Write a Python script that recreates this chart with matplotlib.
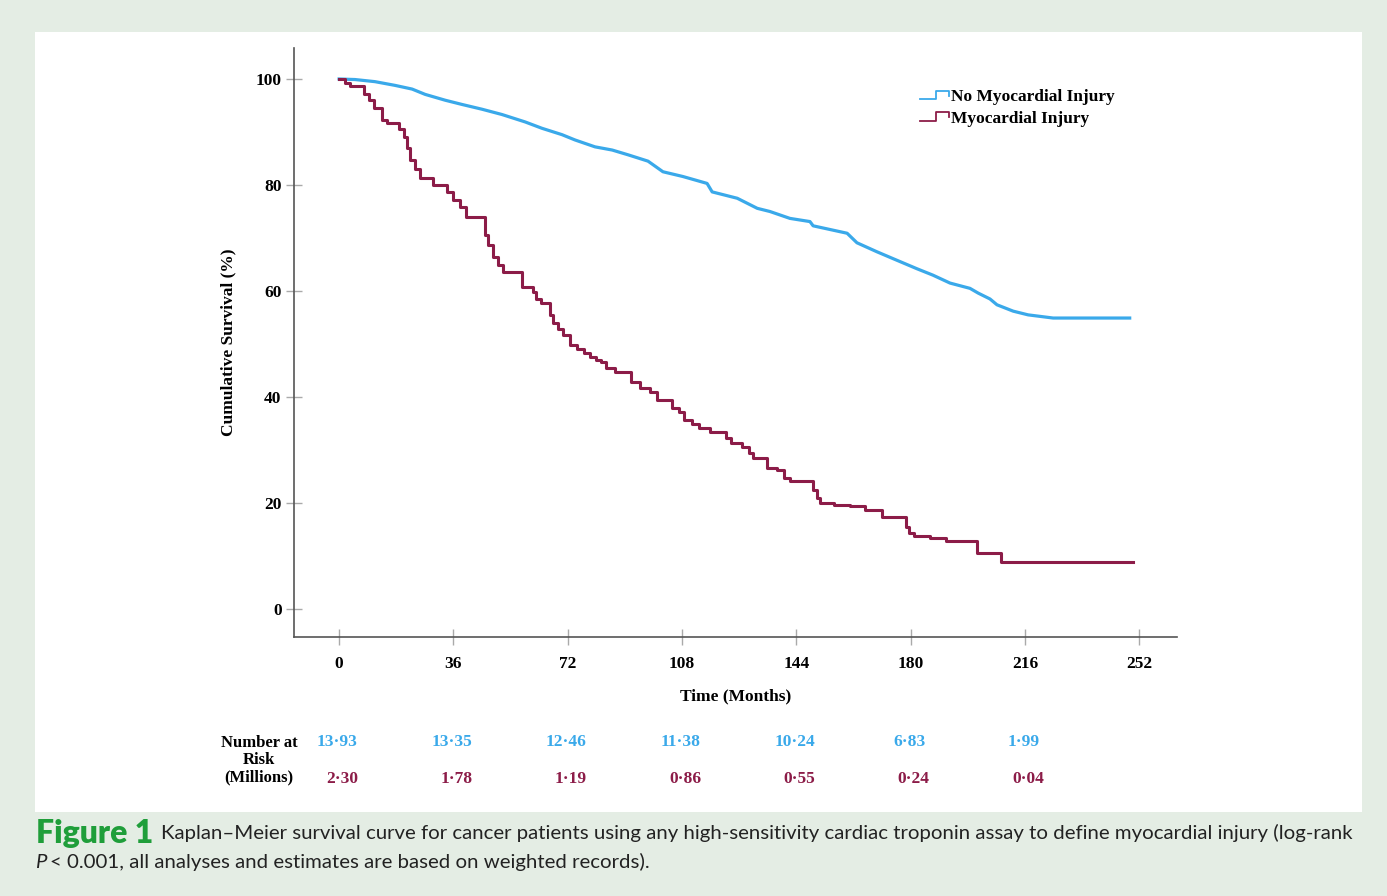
import numpy as np
import matplotlib
matplotlib.use('Agg')
import matplotlib.pyplot as plt
from matplotlib.lines import Line2D
from matplotlib.legend_handler import HandlerBase
from matplotlib.patches import Rectangle
from matplotlib.transforms import blended_transform_factory

# ________DANE_________________________________________________
months_no_injury = [0, 5, 11.3, 17.6, 23, 27.1, 33.4, 38.7, 45, 51.3, 58.6, 63.9, 70.2, 74.3,
                    80.6, 86, 91, 97.3, 102, 108.3, 115.9, 117.5, 125.4, 131.7, 135.7, 142,
                    148.3, 149.3, 160, 163.1, 169.4, 174.5, 182, 187, 192.4, 198.7, 201.3,
                    205, 207.2, 212.3, 217, 224.9, 249]
surv_no_injury = [100, 99.9, 99.5, 98.8, 98.1, 97.1, 96.0, 95.2, 94.3, 93.3, 91.9, 90.7, 89.5, 88.5,
                  87.2, 86.6, 85.7, 84.5, 82.5, 81.6, 80.3, 78.7, 77.5, 75.6, 75.0, 73.7,
                  73.1, 72.3, 70.9, 69.1, 67.4, 66.1, 64.2, 63.0, 61.5, 60.5, 59.6,
                  58.5, 57.4, 56.2, 55.5, 54.9, 54.9]

months_injury = [0, 2, 3.5, 8, 9.5, 11, 13.5, 15, 19, 20.5, 21.5, 22.4, 24, 25.5, 29.6, 34, 36,
                 38, 40, 46, 47, 48.5, 50, 51.5, 57.6, 61, 62, 63.5, 66.5, 67.5, 69, 70.5,
                 72.8, 75, 77, 79, 81, 82.5, 84, 87, 91.8, 94.8, 98, 100, 104.8, 107, 108.7,
                 111, 113.5, 116.7, 122, 123.5, 127, 129, 130.5, 134.8, 138, 140, 142, 149.3,
                 150.5, 151.5, 156, 161, 165.5, 171, 178.5, 179.5, 181, 186, 191, 201, 208.5,
                 250]
surv_injury = [100, 99.3, 98.6, 97.2, 96, 94.5, 92.2, 91.7, 90.5, 89, 87, 84.7, 83, 81.3, 80,
               78.7, 77.2, 75.8, 74, 70.5, 68.7, 66.4, 65, 63.6, 60.8, 59.8, 58.5, 57.7, 55.5,
               54, 52.8, 51.7, 49.8, 49, 48.3, 47.5, 47, 46.6, 45.5, 44.7, 42.8, 41.7, 41,
               39.4, 37.9, 37.2, 35.7, 35, 34.2, 33.4, 32.2, 31.3, 30.6, 29.5, 28.5, 26.6,
               26.2, 24.7, 24.2, 22.5, 21, 20, 19.6, 19.4, 18.7, 17.4, 15.5, 14.3, 13.8,
               13.4, 12.8, 10.6, 8.9, 8.9]

x_ticks = [0, 36, 72, 108, 144, 180, 216, 252]
y_ticks = [0, 20, 40, 60, 80, 100]

risk_months = [0, 36, 72, 108, 144, 180, 216]
risk_no_injury = ['13·93', '13·35', '12·46', '11·38', '10·24', '6·83', '1·99']
risk_injury = ['2·30', '1·78', '1·19', '0·86', '0·55', '0·24', '0·04']

labels = ['No Myocardial Injury', 'Myocardial Injury']

BLUE = '#3aa9ea'
RED = '#8c1c48'
SERIF = ['Liberation Serif', 'DejaVu Serif']


class StepHandler(HandlerBase):
    # ikonka legendy w ksztalcie schodka
    def create_artists(self, legend, orig_handle, xdescent, ydescent, width, height, fontsize, trans):
        xs = np.array([0, 0.55, 0.55, 1.0, 1.0]) * width - xdescent
        ys = np.array([0.15, 0.15, 0.85, 0.85, 0.45]) * height - ydescent
        line = Line2D(xs, ys, color=orig_handle.get_color(), linewidth=1.3)
        line.set_transform(trans)
        return [line]


fig = plt.figure(figsize=(13.87, 8.96), dpi=100)
fig.patch.set_facecolor('#e4ede4')
fig.patches.append(Rectangle((35 / 1387, 1 - 812 / 896), (1362 - 35) / 1387, (812 - 32) / 896,
                             transform=fig.transFigure, facecolor='white', edgecolor='none', zorder=-5))

ax = fig.add_axes([294 / 1387, 1 - 637 / 896, (1177 - 294) / 1387, (637 - 48) / 896])
ax.set_facecolor('none')

l1, = ax.plot(months_no_injury, surv_no_injury, color=BLUE, linewidth=2.3)
l2, = ax.plot(months_injury, surv_injury, drawstyle='steps-post', color=RED, linewidth=2.2)

ax.set_xlim(-14.2, 263.9)
ax.set_ylim(-5.28, 105.85)
ax.set_xticks(x_ticks)
ax.set_yticks(y_ticks)
ax.tick_params(direction='inout', length=12, width=1, color='#aaaaaa')
ax.tick_params(axis='x', pad=8)
ax.tick_params(axis='y', pad=3)
for lab in ax.get_xticklabels() + ax.get_yticklabels():
    lab.set_family(SERIF)
    lab.set_fontweight('bold')
    lab.set_fontsize(12.5)

for s in ['top', 'right']:
    ax.spines[s].set_visible(False)
for s in ['left', 'bottom']:
    ax.spines[s].set_color('#555555')
    ax.spines[s].set_linewidth(1.2)

ax.set_xlabel('Time (Months)', family=SERIF, fontweight='bold', fontsize=12.5)
ax.xaxis.set_label_coords(0.5, -0.088)
ax.set_ylabel('Cumulative Survival (%)', family=SERIF, fontweight='bold', fontsize=12.5)
ax.yaxis.set_label_coords(-0.0657, 0.5)

ax.legend([l1, l2], labels, handler_map={Line2D: StepHandler()},
          loc='upper left', bbox_to_anchor=(920 / 1387, 1 - 89 / 896), bbox_transform=fig.transFigure,
          frameon=False, borderpad=0, borderaxespad=0, handlelength=1.65, handletextpad=0.15,
          labelspacing=0.3, prop={'family': SERIF, 'weight': 'bold', 'size': 12.5})

# ________LICZBA_NARAZONYCH_________________________________________
tr = blended_transform_factory(ax.transData, fig.transFigure)
for m, val in zip(risk_months, risk_no_injury):
    fig.text(m - 0.5, 1 - 742 / 896, val, transform=tr, ha='center', va='center',
             color=BLUE, family=SERIF, fontweight='bold', fontsize=12.5)
for m, val in zip(risk_months, risk_injury):
    fig.text(m + 1.0, 1 - 779 / 896, val, transform=tr, ha='center', va='center',
             color=RED, family=SERIF, fontweight='bold', fontsize=12.5)
fig.text(259 / 1387, 1 - 760 / 896, 'Number at\nRisk\n(Millions)', ha='center', va='center',
         family=SERIF, fontweight='bold', fontsize=12, linespacing=1.12)

# ________PODPIS_________________________________________________
fig.canvas.draw()
renderer = fig.canvas.get_renderer()
cap_y1 = 1 - 833 / 896
cap_y2 = 1 - 862 / 896
t0 = fig.text(36 / 1387, cap_y1, 'Figure 1', ha='left', va='center', color='#1f9e3a',
              family='Lato', fontweight='heavy', fontsize=23)
bb = t0.get_window_extent(renderer)
fig.text(bb.x1 / fig.bbox.width + 8 / 1387, cap_y1,
         'Kaplan–Meier survival curve for cancer patients using any high-sensitivity cardiac troponin '
         'assay to define myocardial injury (log-rank',
         ha='left', va='center', color='#222222', family='Lato', fontsize=14.7)
t1 = fig.text(36 / 1387, cap_y2, 'P', ha='left', va='center', color='#222222',
              family='Lato', style='italic', fontsize=14.7)
bb = t1.get_window_extent(renderer)
fig.text(bb.x1 / fig.bbox.width + 3 / 1387, cap_y2,
         '< 0.001, all analyses and estimates are based on weighted records).',
         ha='left', va='center', color='#222222', family='Lato', fontsize=14.7)

plt.savefig('out.png', dpi=100, facecolor=fig.get_facecolor())
